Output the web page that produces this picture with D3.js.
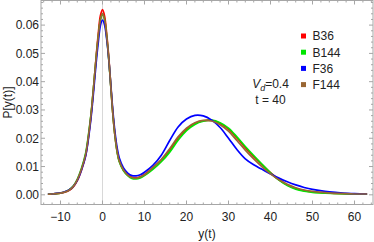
<!doctype html>
<html>
<head>
  <meta charset="utf-8">
  <title>P[y(t)]</title>
  <script src="https://d3js.org/d3.v7.min.js"></script>
  <style>
    body { margin: 0; background: #fff; }
    text { font-family: "Liberation Sans", Arial, sans-serif; fill: #222; }
  </style>
</head>
<body>
  <div id="chart"></div>
  <script>

    // shared grid of y(t) values
    var xs = [-13,-12,-11,-10,-9,-8,-7,-6,-5,-4,-3,-2.5,-2,-1.5,-1,-0.5,0,0.5,1,1.5,2,2.5,3,3.5,4,5,6,7,8,9,10,12,14,16,18,20,22,24,26,28,30,32,34,36,38,40,42,44,46,48,50,53,56,60,63];

    var b36 = [0.0002,0.0003,0.0004,0.0006,0.0009,0.0015,0.0027,0.0050,0.0088,0.0140,0.0245,0.0315,0.0400,0.0490,0.0570,0.0633,0.0655,0.0632,0.0568,0.0485,0.0380,0.0280,0.0205,0.0152,0.0120,0.0088,0.0071,0.0062,0.0060,0.0064,0.0072,0.0095,0.0123,0.0158,0.0200,0.0232,0.0252,0.0262,0.0263,0.0252,0.0232,0.0201,0.0167,0.0135,0.0106,0.0078,0.0054,0.0035,0.0023,0.0015,0.0010,0.0007,0.0005,0.0003,0.0003];

    var b144 = [0.0002,0.0003,0.0004,0.0006,0.0010,0.0017,0.0030,0.0055,0.0094,0.0148,0.0252,0.0320,0.0402,0.0485,0.0558,0.0617,0.0640,0.0618,0.0558,0.0478,0.0378,0.0280,0.0205,0.0150,0.0117,0.0085,0.0068,0.0058,0.0056,0.0060,0.0068,0.0090,0.0117,0.0151,0.0193,0.0227,0.0249,0.0260,0.0264,0.0255,0.0236,0.0205,0.0171,0.0139,0.0108,0.0078,0.0052,0.0033,0.0020,0.0013,0.0009,0.0006,0.0004,0.0003,0.0002];

    var f36 = [0.0002,0.0003,0.0005,0.0007,0.0011,0.0017,0.0029,0.0051,0.0088,0.0138,0.0238,0.0305,0.0385,0.0468,0.0540,0.0598,0.0618,0.0600,0.0550,0.0478,0.0385,0.0292,0.0218,0.0165,0.0130,0.0095,0.0077,0.0068,0.0067,0.0071,0.0080,0.0104,0.0140,0.0192,0.0240,0.0268,0.0281,0.0279,0.0264,0.0238,0.0200,0.0160,0.0127,0.0106,0.0090,0.0074,0.0059,0.0046,0.0035,0.0026,0.0019,0.0012,0.0008,0.0004,0.0003];

    var f144 = [0.0002,0.0003,0.0004,0.0006,0.0010,0.0016,0.0029,0.0053,0.0091,0.0144,0.0248,0.0318,0.0401,0.0486,0.0560,0.0618,0.0641,0.0620,0.0560,0.0481,0.0380,0.0282,0.0207,0.0153,0.0120,0.0088,0.0070,0.0061,0.0059,0.0063,0.0071,0.0097,0.0125,0.0163,0.0205,0.0236,0.0255,0.0263,0.0261,0.0248,0.0225,0.0192,0.0158,0.0127,0.0099,0.0074,0.0053,0.0037,0.0025,0.0017,0.0012,0.0008,0.0005,0.0003,0.0003];

    var seriesNames = ["B36", "B144", "F36", "F144"];
    var seriesColors = ["#ff0000", "#00e600", "#0000ff", "#996633"];
    var seriesValues = [b36, b144, f36, f144];

    var xTicks = [-10, 0, 10, 20, 30, 40, 50, 60];
    var yTicks = [0, 0.01, 0.02, 0.03, 0.04, 0.05, 0.06];

    var W = 374, H = 242;
    var margin = { top: 0.5, right: 1, bottom: 37.5, left: 41 },
      width = W - margin.left - margin.right,
      height = H - margin.top - margin.bottom;

    var svg = d3.select("#chart")
      .append("svg")
      .attr("width", W)
      .attr("height", H)
      .append("g")
      .attr("transform", "translate(" + margin.left + "," + margin.top + ")");

    var x = d3.scaleLinear().domain([-14.64, 64.4]).range([0, width]);
    var y = d3.scaleLinear().domain([-0.00342, 0.0687]).range([height, 0]);

    // clip
    svg.append("defs").append("clipPath").attr("id", "clip")
      .append("rect").attr("width", width).attr("height", height);

    // light vertical axis at y(t)=0
    svg.append("line")
      .attr("x1", x(0)).attr("x2", x(0))
      .attr("y1", 0).attr("y2", height)
      .attr("stroke", "#d8d8d8").attr("stroke-width", 1);

    // curves
    var line = d3.line()
      .curve(d3.curveCatmullRom.alpha(0.5))
      .x(function (d, i) { return x(xs[i]); })
      .y(function (d) { return y(d); });

    seriesValues.forEach(function (vals, k) {
      svg.append("path")
        .datum(vals)
        .attr("clip-path", "url(#clip)")
        .attr("fill", "none")
        .attr("stroke", seriesColors[k])
        .attr("stroke-width", 1.7)
        .attr("d", line);
    });

    // frame
    svg.append("rect")
      .attr("width", width).attr("height", height)
      .attr("fill", "none").attr("stroke", "#a6a6a6").attr("stroke-width", 1);

    var tickColor = "#a6a6a6";
    var xMinor = d3.range(-14, 65, 2);
    var yMinor = d3.range(0, 0.0687, 0.002);

    function isMajor(v, arr) {
      return arr.some(function (t) { return Math.abs(t - v) < 1e-9; });
    }

    // x ticks on bottom and top (inward)
    xMinor.forEach(function (v) {
      var len = isMajor(v, xTicks) ? 4 : 2;
      svg.append("line").attr("x1", x(v)).attr("x2", x(v))
        .attr("y1", height).attr("y2", height - len)
        .attr("stroke", tickColor);
      svg.append("line").attr("x1", x(v)).attr("x2", x(v))
        .attr("y1", 0).attr("y2", len)
        .attr("stroke", tickColor);
    });

    // y ticks on left and right (inward)
    yMinor.forEach(function (v) {
      var len = isMajor(v, yTicks) ? 4 : 2;
      svg.append("line").attr("x1", 0).attr("x2", len)
        .attr("y1", y(v)).attr("y2", y(v))
        .attr("stroke", tickColor);
      svg.append("line").attr("x1", width).attr("x2", width - len)
        .attr("y1", y(v)).attr("y2", y(v))
        .attr("stroke", tickColor);
    });

    // tick labels
    svg.selectAll(".xlab").data(xTicks).enter().append("text")
      .attr("x", function (d) { return x(d); })
      .attr("y", height + 16)
      .attr("text-anchor", "middle")
      .style("font-size", "12px")
      .text(function (d) { return d < 0 ? "\u2212" + Math.abs(d) : d; });

    svg.selectAll(".ylab").data(yTicks).enter().append("text")
      .attr("x", -2)
      .attr("y", function (d) { return y(d); })
      .attr("dy", "0.36em")
      .attr("text-anchor", "end")
      .style("font-size", "12px")
      .text(function (d) { return d.toFixed(2); });

    // axis titles
    svg.append("text")
      .attr("x", width / 2)
      .attr("y", height + 33)
      .attr("text-anchor", "middle")
      .style("font-size", "12px")
      .text("y(t)");

    svg.append("text")
      .attr("transform", "translate(" + (8 - margin.left) + "," + (height / 2) + ") rotate(-90)")
      .attr("text-anchor", "middle")
      .attr("dy", "0.36em")
      .style("font-size", "12px")
      .text("P[y(t)]");

    // legend
    var legend = svg.append("g").attr("transform", "translate(" + (301 - margin.left) + "," + (36 - margin.top) + ")");
    seriesNames.forEach(function (name, i) {
      legend.append("rect")
        .attr("x", 0).attr("y", i * 16.2 - 2.5)
        .attr("width", 5).attr("height", 5)
        .attr("fill", seriesColors[i]);
      legend.append("text")
        .attr("x", 11.5).attr("y", i * 16.2)
        .attr("dy", "0.36em")
        .style("font-size", "12px")
        .text(name);
    });

    // annotation
    var note = svg.append("text")
      .attr("x", 270.5 - margin.left).attr("y", 83.5 - margin.top)
      .attr("dy", "0.36em")
      .attr("text-anchor", "middle")
      .style("font-size", "12px");
    note.append("tspan").style("font-style", "italic").text("V");
    note.append("tspan").style("font-style", "italic").style("font-size", "9px").attr("dy", "3").text("d");
    note.append("tspan").attr("dy", "-3").text("=0.4");

    svg.append("text")
      .attr("x", 270.5 - margin.left).attr("y", 99.5 - margin.top)
      .attr("dy", "0.36em")
      .attr("text-anchor", "middle")
      .style("font-size", "12px")
      .text("t = 40");

  </script>
</body>
</html>
